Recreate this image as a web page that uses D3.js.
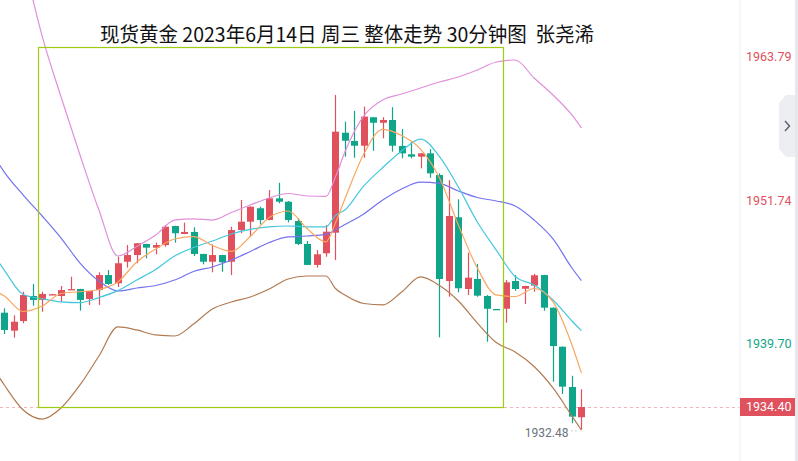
<!DOCTYPE html>
<html><head><meta charset="utf-8">
<script src="https://cdn.jsdelivr.net/npm/d3@7"></script>
<style>html,body{margin:0;padding:0;background:#fff;overflow:hidden}</style>
</head><body><svg id="c" width="798" height="461"></svg>
<script>
// ---------- data ----------
const titleText = "现货黄金 2023年6月14日 周三 整体走势 30分钟图  张尧浠";
const openP  = [1942.32,1940.81,1941.62,1943.72,1943.39,1943.82,1943.72,1944.26,1944.31,1943.47,1944.22,1945.48,1944.79,1946.60,1947.16,1948.09,1947.78,1948.00,1949.60,1948.93,1949.10,1947.25,1946.60,1947.16,1946.60,1949.26,1949.96,1951.09,1950.10,1951.92,1951.64,1950.02,1948.09,1946.33,1947.31,1949.04,1957.43,1956.74,1956.34,1958.73,1958.27,1958.50,1956.32,1955.62,1955.42,1955.70,1953.88,1944.98,1950.33,1944.31,1945.15,1943.72,1942.63,1942.65,1944.98,1944.33,1944.59,1945.48,1942.74,1939.46,1936.08,1933.54];
const highP  = [1942.69,1942.10,1944.08,1944.73,1944.08,1943.90,1944.56,1945.34,1944.33,1944.16,1945.71,1945.90,1947.02,1948.00,1948.17,1948.11,1948.20,1949.68,1949.62,1949.88,1949.49,1947.27,1948.06,1947.18,1949.54,1951.78,1951.24,1951.22,1952.62,1953.23,1951.70,1950.25,1948.34,1947.58,1949.68,1960.60,1958.36,1959.26,1959.62,1958.75,1958.73,1959.57,1957.74,1956.74,1955.72,1956.06,1954.02,1953.46,1951.84,1947.36,1946.41,1943.80,1942.63,1945.06,1945.48,1944.58,1945.57,1945.50,1942.76,1939.48,1937.03,1935.89];
const lowP   = [1940.53,1940.22,1941.43,1942.91,1942.40,1943.80,1943.22,1944.22,1942.49,1942.97,1942.97,1944.65,1944.48,1946.10,1946.47,1946.89,1947.22,1947.86,1948.20,1948.91,1947.08,1946.38,1945.71,1945.76,1945.48,1948.99,1948.70,1949.74,1950.08,1951.50,1949.91,1948.00,1946.32,1946.10,1947.02,1946.74,1955.42,1955.33,1955.33,1955.92,1956.96,1955.84,1955.28,1955.28,1954.44,1953.65,1940.25,1943.66,1944.03,1943.80,1943.66,1939.88,1942.55,1941.48,1944.17,1943.05,1944.08,1942.49,1936.52,1935.49,1933.03,1932.48];
const closeP = [1940.87,1941.56,1943.80,1943.39,1943.89,1943.87,1944.22,1944.30,1943.39,1944.14,1945.48,1944.73,1946.47,1947.16,1948.15,1947.78,1948.00,1949.54,1948.99,1949.10,1947.25,1946.60,1947.16,1946.55,1949.26,1949.96,1951.22,1950.10,1951.92,1951.64,1950.10,1948.09,1946.33,1947.22,1949.12,1957.52,1956.76,1956.34,1958.78,1958.27,1958.50,1956.34,1955.70,1955.42,1955.70,1954.02,1945.15,1950.44,1944.37,1945.26,1943.75,1942.65,1942.58,1944.87,1944.31,1944.56,1945.46,1942.74,1939.52,1936.11,1933.59,1934.40];

const lineIdx = [-0.5,0,2,4,6,8,10,12,14,16,18,20,22,24,26,28,30,32,34,35,36,38,40,42,44,46,48,50,52,54,56,58,60,61];
const maFast  = [1943.95,1943.72,1942.42,1942.88,1943.93,1944.08,1944.27,1944.90,1946.58,1947.67,1948.51,1948.70,1947.96,1947.46,1948.72,1950.31,1950.86,1949.39,1948.26,1949.85,1951.87,1955.65,1957.72,1957.20,1956.06,1953.63,1949.68,1946.07,1943.81,1943.68,1944.35,1943.22,1939.61,1937.26];
const maMid   = [1946.47,1945.90,1943.85,1943.49,1943.23,1943.16,1943.59,1944.17,1945.06,1945.95,1947.08,1947.79,1948.34,1948.93,1949.31,1949.53,1949.60,1949.52,1949.53,1950.48,1950.94,1952.96,1954.51,1955.90,1956.90,1955.43,1952.87,1949.93,1947.58,1945.36,1944.64,1943.38,1941.62,1940.81];
const maSlow  = [1954.72,1954.13,1952.20,1950.44,1948.59,1946.49,1944.98,1944.14,1944.39,1944.60,1945.06,1945.78,1946.16,1946.74,1947.46,1948.21,1948.68,1948.76,1948.89,1949.29,1949.72,1950.61,1951.78,1952.71,1953.29,1953.18,1952.54,1951.99,1951.70,1951.28,1950.10,1948.51,1946.07,1945.01];
const bandUp  = [1979.90,1978.23,1971.94,1965.55,1960.43,1955.56,1950.94,1947.08,1947.88,1948.84,1950.10,1950.20,1950.10,1950.73,1951.36,1951.95,1952.33,1952.12,1952.08,1953.71,1955.81,1958.84,1960.18,1960.68,1961.19,1961.69,1962.11,1962.70,1963.37,1963.54,1962.03,1960.60,1958.92,1957.83];
const bandLow = [1936.84,1936.25,1934.15,1933.39,1934.32,1936.25,1938.68,1941.12,1940.87,1940.45,1940.36,1941.37,1942.63,1943.22,1943.64,1944.31,1945.15,1945.40,1945.40,1944.35,1943.81,1943.09,1942.97,1944.06,1945.32,1944.60,1943.30,1941.45,1939.82,1939.02,1937.80,1936.00,1933.64,1932.47];

const axisTicks = [1963.79, 1951.74, 1939.70];
const lastPrice = 1934.40;
const lowPrice = 1932.48;
const boxFrom = 3.56, boxTo = 52.69, boxTop = 1964.60, boxBottom = 1934.40;

// ---------- styles ----------
const RED = "#e0505d", GREEN = "#0ea58a";
const tickColors = [RED, RED, "#13a589"];

const svg = d3.select("#c");
const W = 798, H = 461, plotRight = 739.5;

const x = d3.scaleLinear().domain([0, 61]).range([4.3, 581.4]);
const y = d3.scaleLinear().domain([1963.79, 1934.40]).range([57, 407]);

svg.append("rect").attr("width", W).attr("height", H).attr("fill", "#fff");

const defs = svg.append("defs");
defs.append("clipPath").attr("id", "plot").append("rect")
  .attr("x", 0).attr("y", 0).attr("width", plotRight).attr("height", H);

const g = svg.append("g").attr("clip-path", "url(#plot)");

// last price dashed line
g.append("line").attr("x1", 0).attr("x2", plotRight)
  .attr("y1", Math.round(y(lastPrice)) + 0.5).attr("y2", Math.round(y(lastPrice)) + 0.5)
  .attr("stroke", "#f4b3bb").attr("stroke-width", 1).attr("stroke-dasharray", "3,3");

// candles
const idx = d3.range(openP.length);
const bw = 7;
const cg = g.append("g");
idx.forEach(i => {
  const up = closeP[i] >= openP[i];
  const col = up ? RED : GREEN;
  const cx = Math.round(x(i)) + 0.5;
  cg.append("line").attr("x1", cx).attr("x2", cx)
    .attr("y1", y(highP[i])).attr("y2", y(lowP[i]))
    .attr("stroke", col).attr("stroke-width", 1.2);
  const top = y(Math.max(openP[i], closeP[i]));
  const bot = y(Math.min(openP[i], closeP[i]));
  cg.append("rect").attr("x", cx - bw / 2).attr("y", top)
    .attr("width", bw).attr("height", Math.max(1.3, bot - top)).attr("fill", col);
});

// indicator lines
const mk = arr => d3.line().x((d, k) => x(lineIdx[k])).y(d => y(d)).curve(d3.curveMonotoneX)(arr);
const lines = [
  [bandUp, "#e08fdc"],
  [bandLow, "#b27a50"],
  [maSlow, "#7373f0"],
  [maMid, "#45c7de"],
  [maFast, "#f9a760"]
];
lines.forEach(([arr, col]) => {
  g.append("path").attr("d", mk(arr)).attr("fill", "none")
    .attr("stroke", col).attr("stroke-width", 1.2);
});

// highlight box
g.append("rect")
  .attr("x", Math.round(x(boxFrom)) + 0.5).attr("y", Math.round(y(boxTop)) + 0.5)
  .attr("width", Math.round(x(boxTo)) - Math.round(x(boxFrom)))
  .attr("height", Math.round(y(boxBottom)) - Math.round(y(boxTop)))
  .attr("fill", "none").attr("stroke", "#9dcc12").attr("stroke-width", 1.2);

// low label
const lx = x(61), ly = y(lowPrice);
svg.append("line").attr("x1", lx - 10).attr("x2", lx - 3).attr("y1", ly + 1).attr("y2", ly + 1)
  .attr("stroke", "#9aa0a8").attr("stroke-width", 1).attr("stroke-dasharray", "1,3");
svg.append("text").attr("x", lx - 13).attr("y", ly + 7)
  .attr("text-anchor", "end").attr("font-family", "Roboto, 'Noto Sans', sans-serif")
  .attr("font-size", 12).attr("fill", "#6b717b").text(lowPrice.toFixed(2));

// title
svg.append("text").attr("x", 100).attr("y", 42)
  .attr("font-family", "'Noto Sans CJK SC', sans-serif").attr("font-size", 20)
  .attr("fill", "#111").attr("textLength", 494).attr("lengthAdjust", "spacingAndGlyphs")
  .style("white-space", "pre").text(titleText);

// right axis
svg.append("line").attr("x1", plotRight + 0.5).attr("x2", plotRight + 0.5).attr("y1", 0).attr("y2", H)
  .attr("stroke", "#eceef2").attr("stroke-width", 1);
svg.append("rect").attr("x", 795).attr("y", 0).attr("width", 3).attr("height", H).attr("fill", "#e6e8ec");

axisTicks.forEach((v, k) => {
  svg.append("text").attr("x", 746).attr("y", y(v)).attr("dy", "0.35em")
    .attr("font-family", "Roboto, 'Noto Sans', sans-serif").attr("font-size", 12.5)
    .attr("fill", tickColors[k]).text(v.toFixed(2));
});

const py = y(lastPrice);
svg.append("rect").attr("x", 740).attr("y", py - 9).attr("width", 55).attr("height", 18).attr("fill", RED);
svg.append("text").attr("x", 746).attr("y", py).attr("dy", "0.35em")
  .attr("font-family", "Roboto, 'Noto Sans', sans-serif").attr("font-size", 12.5)
  .attr("fill", "#fff").text(lastPrice.toFixed(2));

// collapse tab
svg.append("path").attr("d", "M779,103 L786,95 L795,95 L795,157 L786,157 L779,149 Z").attr("fill", "#eceef1");
svg.append("path").attr("d", "M785,121 L789.5,126 L785,131").attr("fill", "none")
  .attr("stroke", "#5d6470").attr("stroke-width", 1.5);
</script>
</body></html>
